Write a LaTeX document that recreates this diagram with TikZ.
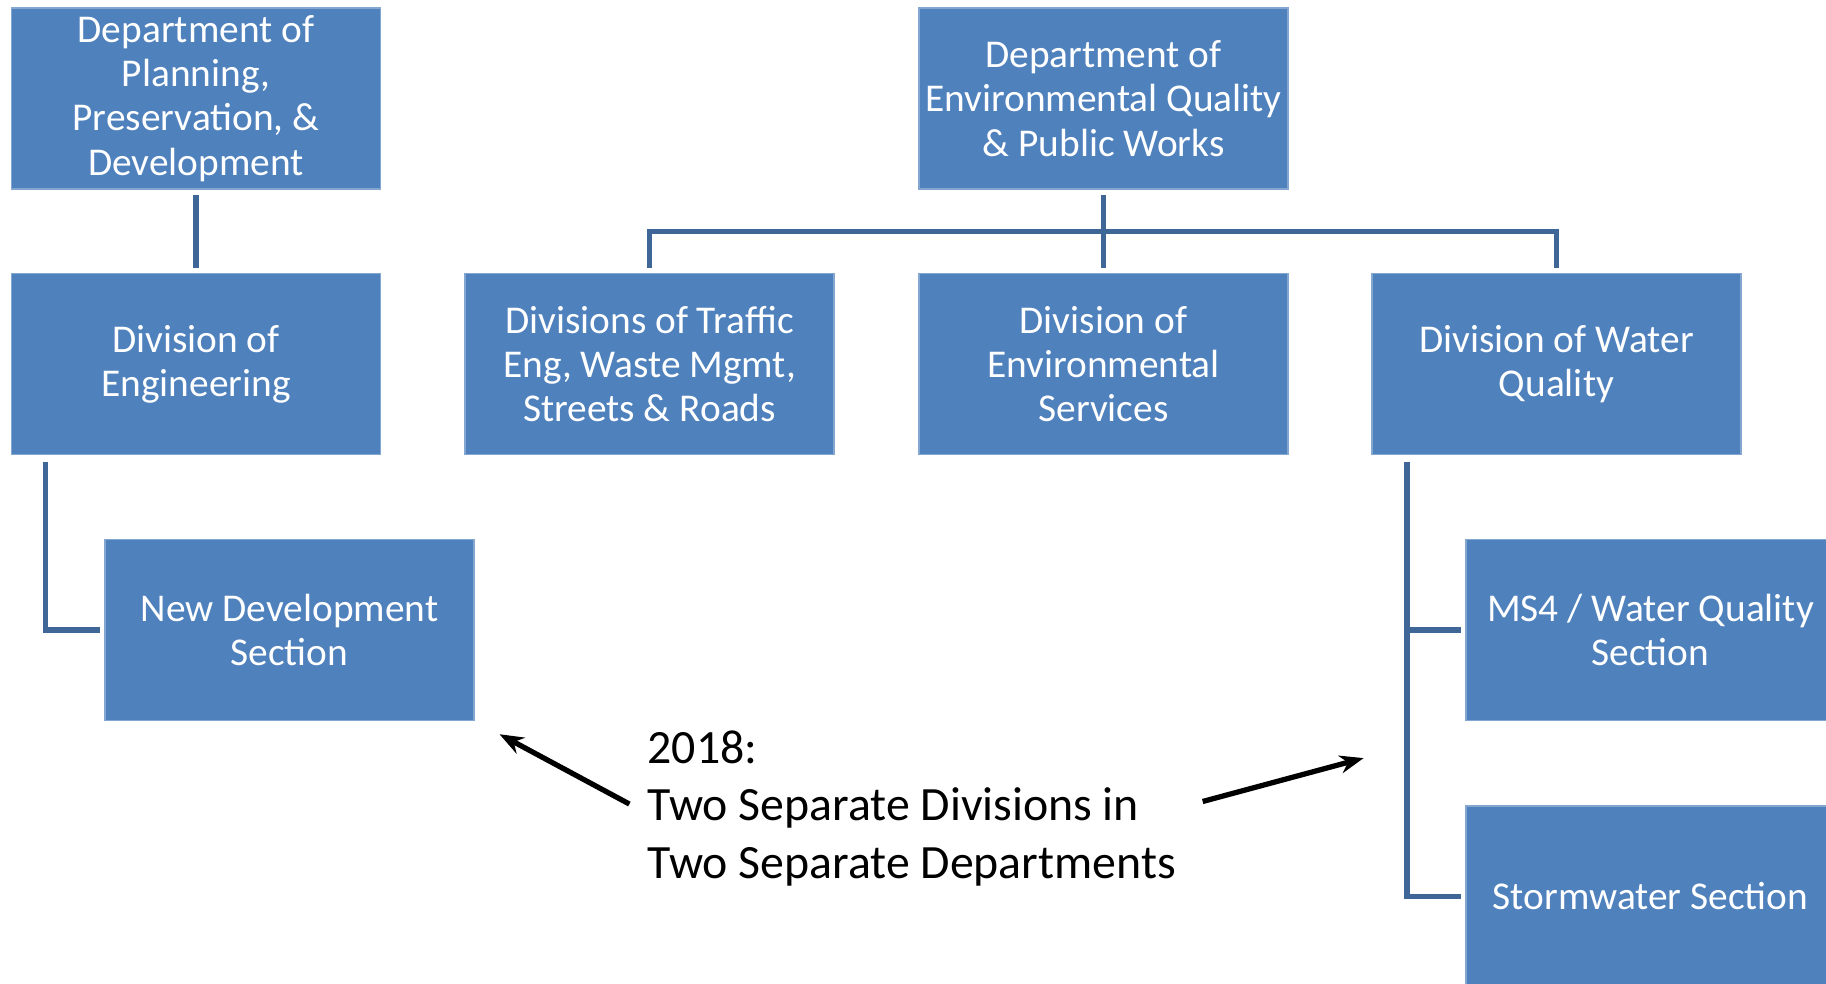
\documentclass[tikz,border=0pt]{standalone}
\usepackage{fontspec}
\setmainfont{Carlito}
\usepackage{xcolor}
\usetikzlibrary{arrows.meta}

\definecolor{boxblue}{HTML}{4F81BD}
\definecolor{linkblue}{HTML}{3E6797}

\begin{document}
\begin{tikzpicture}[
    unit/.style={rectangle, fill=boxblue, draw=boxblue!70!white, line width=0.3pt,
        minimum width=3.69cm, minimum height=1.81cm, inner sep=0pt, outer sep=0pt,
        align=center, text=white, font=\fontsize{11.2}{12.6}\selectfont},
    link/.style={draw=linkblue, line width=1.6pt},
    pointer/.style={-{Stealth[length=0.24cm,width=0.18cm]}, line width=1.5pt, black}
]
            \useasboundingbox (0,0) rectangle (18.26,-9.83);

            % departments
            \node [unit] (plan) at (1.96,-0.985) {Department of\\Planning,\\Preservation, \&\\Development};
            \node [unit] (envq) at (11.035,-0.985) {Department of\\Environmental Quality\\\& Public Works};

            % divisions
            \node [unit] (eng) at (1.96,-3.64) {Division of\\Engineering};
            \node [unit] (traffic) at (6.495,-3.64) {Divisions of Traffic\\Eng, Waste Mgmt,\\Streets \& Roads};
            \node [unit] (envsvc) at (11.035,-3.64) {Division of\\Environmental\\Services};
            \node [unit] (wq) at (15.565,-3.64) {Division of Water\\Quality};

            % sections
            \node [unit] (newdev) at (2.895,-6.30) {New Development\\Section};
            \node [unit] (ms4) at (16.505,-6.30) {MS4 / Water Quality\\Section};
            \node [unit] (storm) at (16.505,-8.965) {Stormwater Section};

            % note
            \node [anchor=west, inner sep=0pt, align=left, font=\fontsize{13.6}{16.5}\selectfont] (note) at (6.47,-8.085)
                {2018:\\Two Separate Divisions in\\Two Separate Departments};

            % tree lines
            \draw [link, shorten <=0.06cm, shorten >=0.06cm] (plan) -- (eng);
            \draw [link, shorten <=0.06cm, shorten >=0.06cm] (envq) -- (envsvc);
            \coordinate (bus) at ([yshift=-0.425cm]envq.south);
            \draw [link, shorten <=0.06cm, shorten >=0.06cm] (traffic.north) |- (bus) -| (wq.north);
            \coordinate (engdrop) at ([xshift=0.34cm]eng.south west);
            \draw [link, shorten <=0.07cm, shorten >=0.05cm] (engdrop) |- (newdev.west);
            \coordinate (wqdrop) at ([xshift=0.35cm]wq.south west);
            \draw [link, shorten <=0.07cm, shorten >=0.05cm] (wqdrop) |- (storm.west);
            \draw [link, shorten >=0.05cm] (wqdrop |- ms4.west) -- (ms4.west);

            % arrows
            \draw [pointer, shorten <=0.2cm, shorten >=0.29cm] ([yshift=-0.05cm]note.west) -- (newdev.south east);
            \draw [pointer, shorten <=0.27cm, shorten >=1.06cm] (note.east) -- ([yshift=-0.10cm]ms4.south west);
        \end{tikzpicture}
\end{document}
